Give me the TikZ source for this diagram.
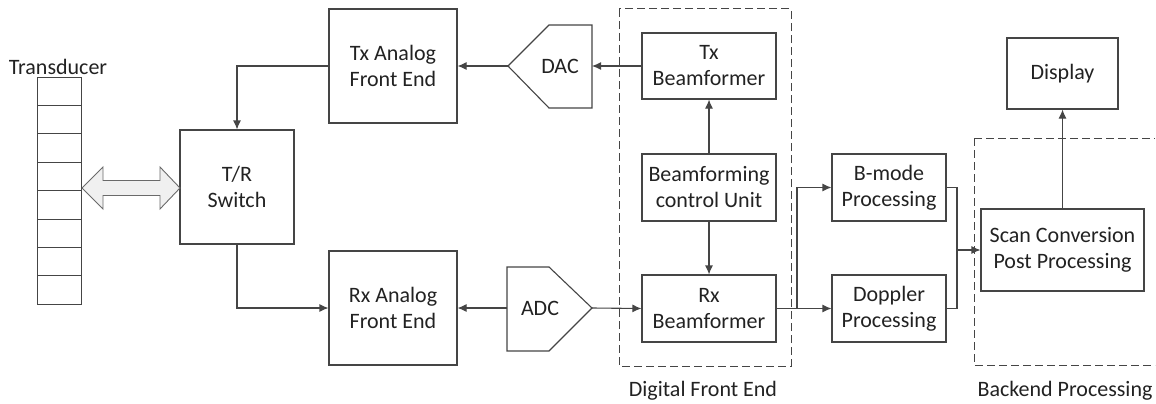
\documentclass[tikz,border=0pt]{standalone}
\usepackage{fontspec}
\setmainfont{Carlito}
\usetikzlibrary{arrows.meta}
\definecolor{ln}{HTML}{454545}
\definecolor{tx}{HTML}{222222}
\begin{document}
\begin{tikzpicture}[x=1pt,y=-1pt,
  every node/.style={font=\fontsize{22}{26}\selectfont, text=tx},
  blk/.style={draw=ln, line width=1.1pt, rectangle, align=center, inner sep=0pt},
  conn/.style={draw=ln, line width=1.1pt, -{Latex[length=9pt,width=8pt]}},
  plain/.style={draw=ln, line width=1.1pt},
  grp/.style={draw=ln, line width=1pt, dash pattern=on 8pt off 4pt}]
\useasboundingbox (0,0) rectangle (1156,404);
% Transducer
\node (tlabel) at (58,67) {Transducer};
\foreach \i in {0,...,7}{
  \draw[plain, line width=1pt] (37.5,{77+\i*28.4}) rectangle (81.5,{77+(\i+1)*28.4});
}
\coordinate (tdr) at (81.5,188);
% Blocks
\node[blk, minimum width=114pt, minimum height=114pt] (tr) at (237,187) {T/R\\Switch};
\node[blk, minimum width=128pt, minimum height=114pt] (txa) at (393,66) {Tx Analog\\Front End};
\node[blk, minimum width=128pt, minimum height=114pt] (rxa) at (393,308) {Rx Analog\\Front End};
\node[blk, minimum width=134pt, minimum height=66pt] (txb) at (709,66) {Tx\\Beamformer};
\node[blk, minimum width=134pt, minimum height=67pt] (bcu) at (709,187.5) {Beamforming\\control Unit};
\node[blk, minimum width=134pt, minimum height=67pt] (rxb) at (709,308.5) {Rx\\Beamformer};
\node[blk, minimum width=114pt, minimum height=67pt] (bm) at (889,187.5) {B-mode\\Processing};
\node[blk, minimum width=114pt, minimum height=67pt] (dop) at (889,308.5) {Doppler\\Processing};
\node[blk, minimum width=163pt, minimum height=82pt] (scan) at (1062.5,250) {Scan Conversion\\Post Processing};
\node[blk, minimum width=111pt, minimum height=71pt] (disp) at (1062.5,73.5) {Display};
% DAC / ADC
\draw[plain, fill=white] (508,66) -- (549,25) -- (592,25) -- (592,108) -- (549,108) -- cycle;
\node (dac) at (560,66) {DAC};
\coordinate (dacL) at (508,66);
\coordinate (dacR) at (592,66);
\draw[plain, fill=white] (507,267) -- (549,267) -- (592,308) -- (549,351) -- (507,351) -- cycle;
\node (adc) at (540,308) {ADC};
\coordinate (adcL) at (507,308);
\coordinate (adcR) at (592,308);
% Groups
\draw[grp] (619,9) rectangle (791,366);
\node (dfe) at (703,391) {Digital Front End};
\draw[grp] (974,138) -- (1155,138);
\draw[grp] (974,138) -- (974,365) -- (1155,365);
\node (bep) at (1065,391) {Backend Processing};
% Double arrow
\draw[draw=ln!80, line width=0.9pt, fill=gray!12] (82,188) -- (103,167) -- (103,180.5) -- (160,180.5) -- (160,167) -- (180,188) -- (160,209) -- (160,195.5) -- (103,195.5) -- (103,209) -- cycle;
% Connectors
\draw[conn] (txa.west) -| (tr.north);
\draw[conn] (tr.south) |- (rxa.west);
\draw[conn] (dacL) -- (txa.east);
\draw[conn] (txb.west) -- (dacR);
\draw[conn] (adcL) -- (rxa.east);
\draw[conn] (adcR) -- (rxb.west);
\draw[conn] (bcu.north) -- (txb.south);
\draw[conn] (bcu.south) -- (rxb.north);
\coordinate (sp) at (797,308.5);
\draw[conn] (rxb.east) -- (dop.west);
\draw[conn] (sp) |- (bm.west);
\coordinate (mg) at (957,250);
\draw[plain] (bm.east) -| (mg);
\draw[plain] (dop.east) -| (mg);
\draw[conn] (mg) -- (scan.west);
\draw[conn] (scan.north) -- (disp.south);
\end{tikzpicture}
\end{document}
